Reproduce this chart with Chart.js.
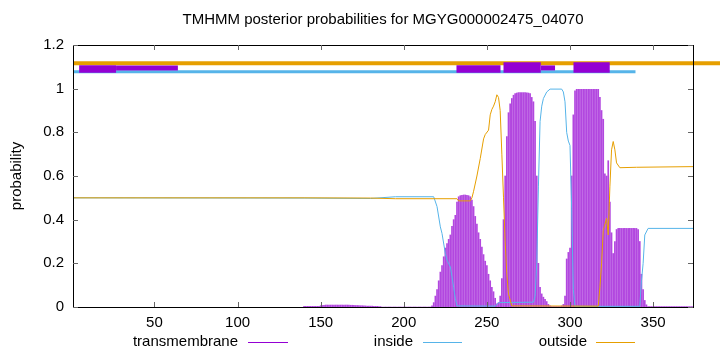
<!DOCTYPE html>
<html>
<head>
<meta charset="utf-8">
<script src="https://cdn.jsdelivr.net/npm/chart.js@4.4.1/dist/chart.umd.min.js"></script>
<style>
  html, body { margin: 0; padding: 0; background: #fff; }
</style>
</head>
<body>
<canvas id="graficoTmhmm" width="720" height="352"></canvas>
<script>
const titulo = "TMHMM posterior probabilities for MGYG000002475_04070";
const xTicks = [50, 100, 150, 200, 250, 300, 350];
const yTicks = [0, 0.2, 0.4, 0.6, 0.8, 1, 1.2];
const nomes = ["transmembrane", "inside", "outside"];

// transmembrane probability, one value per residue starting at tmFirst
const tmFirst = 140;
const tmProb = [
  0.003, 0.003, 0.003, 0.003, 0.003, 0.003, 0.003, 0.003, 0.003, 0.003,
  0.006, 0.007, 0.008, 0.009, 0.009, 0.009, 0.009, 0.009, 0.009, 0.009,
  0.009, 0.009, 0.009, 0.009, 0.009, 0.009, 0.009, 0.009, 0.008, 0.008,
  0.008, 0.007, 0.007, 0.007, 0.006, 0.006,
  0.005, 0.005, 0.004, 0.004, 0.004, 0.004, 0.003, 0.003, 0.003, 0.002, 0.002,
  0, 0, 0, 0, 0, 0, 0, 0, 0, 0, 0, 0, 0, 0, 0,
  0, 0, 0, 0, 0, 0, 0, 0, 0, 0, 0, 0, 0, 0, 0,
  0.005, 0.02, 0.05, 0.08, 0.12, 0.16, 0.19, 0.23, 0.27, 0.29,
  0.31, 0.33, 0.37, 0.40, 0.42, 0.48, 0.505, 0.51, 0.512, 0.513,
  0.513, 0.512, 0.51, 0.505, 0.49, 0.46, 0.415, 0.38, 0.34, 0.31,
  0.275, 0.24, 0.21, 0.19, 0.15, 0.12, 0.09, 0.07, 0.04, 0.015,
  0.02, 0.05, 0.13, 0.40, 0.60, 0.78, 0.89, 0.93, 0.955, 0.97,
  0.977, 0.98, 0.982, 0.982, 0.982, 0.982, 0.982, 0.981, 0.98, 0.978,
  0.96, 0.94, 0.85, 0.6, 0.2, 0.09, 0.06, 0.045, 0.035, 0.025,
  0.012, 0.005, 0.002, 0.002, 0.002, 0.002, 0.002, 0.002, 0.005, 0.012,
  0.05, 0.22, 0.25, 0.27, 0.6, 0.88, 0.99, 0.997, 0.997, 0.997,
  0.997, 0.997, 0.997, 0.997, 0.997, 0.997, 0.997, 0.997, 0.997, 0.997,
  0.997, 0.96, 0.9, 0.86, 0.61, 0.6, 0.67, 0.48, 0.34, 0.245,
  0.3, 0.355, 0.36, 0.36, 0.36, 0.36, 0.36, 0.36, 0.36, 0.36,
  0.36, 0.36, 0.36, 0.36, 0.355, 0.3, 0.15, 0.08, 0.03, 0.01,
  0.002, 0.002, 0.002, 0.002, 0.002, 0.002, 0.002, 0.002, 0.002, 0.002,
  0.002, 0.002, 0.002, 0.002, 0.002, 0.002, 0.002, 0.002, 0.002, 0.002,
  0.002, 0.002, 0.002, 0.002, 0.002, 0.002, 0.002, 0.002, 0.002
];

// inside / outside curves, read at key residues
const insidePos = [1, 140, 180, 195, 218, 220, 222, 223, 225, 226, 228, 229, 230, 231, 232,
  255, 257, 278, 279, 280, 281, 282, 283, 284, 286, 288, 295, 296, 297, 298, 299, 300,
  301, 302, 303, 342, 343, 344, 345, 347, 374];
const insideVal = [0.5, 0.499, 0.497, 0.505, 0.505, 0.46, 0.367, 0.337, 0.245, 0.215, 0.184, 0.14, 0.09, 0.04, 0.005,
  0.004, 0.02, 0.022, 0.05, 0.2, 0.55, 0.85, 0.92, 0.955, 0.985, 0.998, 0.998, 0.985, 0.94, 0.8, 0.76, 0.74,
  0.45, 0.08, 0.003, 0.003, 0.12, 0.2, 0.33, 0.36, 0.36];

const outsidePos = [1, 140, 180, 195, 232, 233, 240, 241, 242, 244, 246, 248, 249, 251, 252,
  253, 254, 255, 256, 257, 258, 259, 260, 261, 262, 263, 265, 317, 318, 319, 320, 322,
  323, 324, 325, 326, 327, 328, 330, 340, 374];
const outsideVal = [0.5, 0.5, 0.499, 0.496, 0.496, 0.486, 0.486, 0.5, 0.53, 0.6, 0.68, 0.77, 0.79, 0.81, 0.88,
  0.905, 0.92, 0.94, 0.972, 0.96, 0.9, 0.7, 0.5, 0.3, 0.15, 0.06, 0.005, 0.004, 0.09, 0.2, 0.35, 0.406,
  0.33, 0.55, 0.72, 0.758, 0.72, 0.66, 0.638, 0.64, 0.643];

// predicted topology strip above the curves
const outsideStrip = [1, 400];
const outsideStripLevel = 1.116;
const insideStrip = [1, 339.4];
const insideStripLevel = 1.077;
const tmBoxStart = [4.7, 26.9, 231.7, 260, 282.4, 302.1];
const tmBoxEnd = [26.9, 64.1, 258.2, 282.4, 291, 323.9];
const tmBoxLevel = [1.09, 1.095, 1.09, 1.097, 1.095, 1.097];

const corTm = "#9400d3";
const corInside = "#56b4e9";
const corOutside = "#e69f00";
const fonte = "15px 'Liberation Sans', Arial, sans-serif";
const boxLargura = [7.3, 5, 7.3, 10.3, 5, 10.3];

function pontos(xs, ys) {
  return xs.map((x, i) => ({ x: x, y: ys[i] }));
}

const datasets = [];

tmBoxStart.forEach((inicio, i) => {
  datasets.push({
    type: 'line',
    data: [{ x: inicio, y: tmBoxLevel[i] }, { x: tmBoxEnd[i], y: tmBoxLevel[i] }],
    borderColor: corTm,
    borderWidth: boxLargura[i],
    borderCapStyle: 'butt',
    pointRadius: 0,
    order: 0
  });
});

datasets.push({
  type: 'line',
  data: insideStrip.map(x => ({ x: x, y: insideStripLevel })),
  borderColor: corInside,
  borderWidth: 3,
  borderCapStyle: 'butt',
  pointRadius: 0,
  order: 1
});

datasets.push({
  type: 'line',
  data: outsideStrip.map(x => ({ x: x, y: outsideStripLevel })),
  borderColor: corOutside,
  borderWidth: 4,
  borderCapStyle: 'butt',
  pointRadius: 0,
  clip: false,
  order: 2
});

datasets.push({
  type: 'line',
  label: nomes[2],
  data: pontos(outsidePos, outsideVal),
  borderColor: corOutside,
  borderWidth: 1,
  pointRadius: 0,
  tension: 0,
  order: 3
});

datasets.push({
  type: 'line',
  label: nomes[1],
  data: pontos(insidePos, insideVal),
  borderColor: corInside,
  borderWidth: 1,
  pointRadius: 0,
  tension: 0,
  order: 4
});

datasets.push({
  type: 'bar',
  label: nomes[0],
  data: tmProb.map((v, i) => ({ x: tmFirst + i, y: v })),
  backgroundColor: 'rgba(148, 0, 211, 0.72)',
  borderWidth: 0,
  barThickness: 1,
  grouped: false,
  order: 5
});

const molduraGnuplot = {
  id: 'molduraGnuplot',
  afterDraw(chart) {
    const { ctx, chartArea: a, scales: { x, y } } = chart;
    ctx.save();
    ctx.strokeStyle = '#000';
    ctx.lineWidth = 1;
    ctx.strokeRect(Math.round(a.left) + 0.5, Math.round(a.top) + 0.5,
      Math.round(a.right - a.left), Math.round(a.bottom - a.top));

    ctx.strokeStyle = '#666';
    ctx.beginPath();
    xTicks.forEach(v => {
      const px = Math.round(x.getPixelForValue(v)) + 0.5;
      ctx.moveTo(px, a.bottom); ctx.lineTo(px, a.bottom - 5);
      ctx.moveTo(px, a.top); ctx.lineTo(px, a.top + 5);
    });
    yTicks.forEach(v => {
      const py = Math.round(y.getPixelForValue(v)) + 0.5;
      ctx.moveTo(a.left, py); ctx.lineTo(a.left + 5, py);
      ctx.moveTo(a.right, py); ctx.lineTo(a.right - 5, py);
    });
    ctx.stroke();

    ctx.fillStyle = '#000';
    ctx.font = fonte;
    ctx.textAlign = 'center';
    ctx.textBaseline = 'middle';
    ctx.fillText(titulo, (a.left + a.right) / 2, 20);

    ctx.save();
    ctx.translate(17, (a.top + a.bottom) / 2);
    ctx.rotate(-Math.PI / 2);
    ctx.fillText('probability', 0, 0);
    ctx.restore();

    // chave no estilo do gnuplot: texto e depois a amostra da linha
    const chave = [
      { txt: nomes[0], fim: 238, cor: corTm, l0: 248, l1: 288 },
      { txt: nomes[1], fim: 413, cor: corInside, l0: 423, l1: 462 },
      { txt: nomes[2], fim: 587, cor: corOutside, l0: 596, l1: 635 }
    ];
    ctx.textAlign = 'right';
    chave.forEach(k => {
      ctx.fillStyle = '#000';
      ctx.fillText(k.txt, k.fim, 342);
      ctx.strokeStyle = k.cor;
      ctx.lineWidth = 1;
      ctx.beginPath();
      ctx.moveTo(k.l0, 342.5); ctx.lineTo(k.l1, 342.5);
      ctx.stroke();
    });
    ctx.restore();
  }
};

const grafico = new Chart(document.getElementById('graficoTmhmm'), {
  type: 'bar',
  data: { datasets: datasets },
  options: {
    responsive: false,
    animation: false,
    devicePixelRatio: 1,
    events: [],
    layout: { padding: { top: 45, right: 27, left: 0, bottom: 0 } },
    plugins: {
      legend: { display: false },
      title: { display: false },
      tooltip: { enabled: false }
    },
    scales: {
      x: {
        type: 'linear',
        offset: false,
        min: 1,
        max: 374,
        grid: { display: false, drawTicks: false, offset: false },
        border: { display: false },
        afterBuildTicks: s => { s.ticks = xTicks.map(v => ({ value: v })); },
        afterFit: s => { s.height = 45; },
        ticks: {
          color: '#000',
          font: { family: "'Liberation Sans', Arial, sans-serif", size: 15 },
          padding: 7,
          maxRotation: 0,
          autoSkip: false
        }
      },
      y: {
        min: 0,
        max: 1.2,
        grid: { display: false, drawTicks: false },
        border: { display: false },
        afterBuildTicks: s => { s.ticks = yTicks.map(v => ({ value: v })); },
        afterFit: s => { s.width = 73; },
        ticks: {
          color: '#000',
          font: { family: "'Liberation Sans', Arial, sans-serif", size: 15 },
          padding: 9,
          callback: v => String(Math.round(v * 10) / 10)
        }
      }
    }
  },
  plugins: [molduraGnuplot]
});
</script>
</body>
</html>
